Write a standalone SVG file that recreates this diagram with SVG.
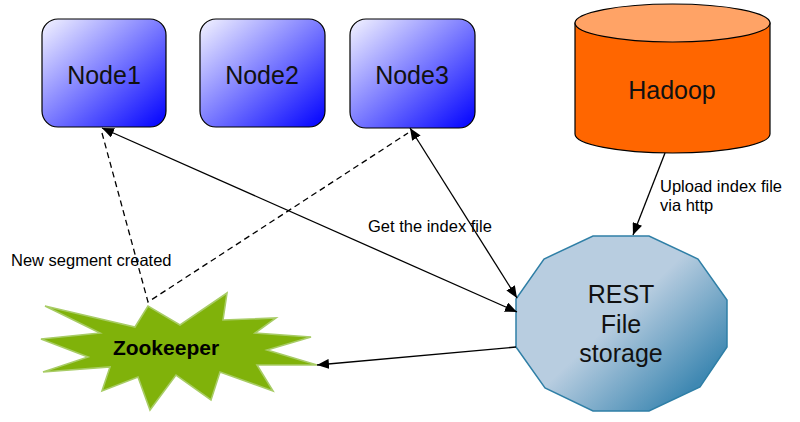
<svg xmlns="http://www.w3.org/2000/svg" width="800" height="422" viewBox="0 0 800 422">
<defs>
  <linearGradient id="gNode" x1="0" y1="0" x2="1" y2="1">
    <stop offset="0" stop-color="#f4f4ff"/>
    <stop offset="1" stop-color="#0000ff"/>
  </linearGradient>
  <linearGradient id="gRest" x1="0.45" y1="0.5" x2="0.85" y2="0.85">
    <stop offset="0" stop-color="#b8cde0"/>
    <stop offset="1" stop-color="#3f88b2"/>
  </linearGradient>
  <marker id="arr" viewBox="0 0 12 10" refX="12" refY="5" markerWidth="12" markerHeight="10" markerUnits="userSpaceOnUse" orient="auto-start-reverse">
    <path d="M0,0 L12,5 L0,10 Z" fill="#000"/>
  </marker>
  <style>
    .node rect { fill: url(#gNode); stroke: #000; stroke-width: 1.2; }
    .big { font-family: "Liberation Sans", Arial, sans-serif; font-size: 25px; fill: #111; text-anchor: middle; }
    .lbl { font-family: "Liberation Sans", Arial, sans-serif; font-size: 16.5px; fill: #000; }
    .conn { fill: none; stroke: #000; stroke-width: 1.3; }
    .dash { stroke-dasharray: 6 4; }
  </style>
</defs>

<g id="node1" class="node">
  <rect x="42" y="19" width="124" height="108" rx="16"/>
  <text class="big" x="104" y="84">Node1</text>
</g>
<g id="node2" class="node">
  <rect x="200" y="19" width="125" height="108" rx="16"/>
  <text class="big" x="262" y="84">Node2</text>
</g>
<g id="node3" class="node">
  <rect x="350" y="19" width="125" height="109" rx="16"/>
  <text class="big" x="412" y="84">Node3</text>
</g>

<g id="hadoop">
  <path d="M575,23 L575,134 A97.5,19 0 0 0 770,134 L770,23 Z" fill="#ff6600" stroke="#000" stroke-width="1.2"/>
  <ellipse cx="672.5" cy="23" rx="97.5" ry="19" fill="#ffa366" stroke="#000" stroke-width="1.2"/>
  <text class="big" x="672" y="99">Hadoop</text>
</g>

<g id="rest">
  <polygon points="593,236 649,236 698,259 727,300 727,347 700,387 649,411 593,411 545,388 516,347 516,299 544,259" fill="url(#gRest)" stroke="#2f7fa6" stroke-width="1.5"/>
  <text class="big" x="621" y="303">REST</text>
  <text class="big" x="621" y="333">File</text>
  <text class="big" x="621" y="362">storage</text>
</g>

<g id="zookeeper">
  <polygon points="45,306 135,327 148,306 180,325 227,293 223,320 276,318 255,333 311,337 267,350 317,365 257,365 273,391 220,372 211,400 176,375 150,410 138,377 102,391 110,367 43,372 88,357 41,339 100,333" fill="#80b20a" stroke="#a8cc66" stroke-width="1.6" stroke-linejoin="miter"/>
  <text x="166" y="355" text-anchor="middle" font-family="Liberation Sans, Arial, sans-serif" font-weight="bold" font-size="21" fill="#000">Zookeeper</text>
</g>

<g id="connectors">
  <line class="conn" x1="102" y1="128" x2="517" y2="312" marker-start="url(#arr)" marker-end="url(#arr)"/>
  <line class="conn" x1="410" y1="128" x2="517" y2="298" marker-start="url(#arr)" marker-end="url(#arr)"/>
  <line class="conn" x1="665" y1="153" x2="633" y2="235" marker-end="url(#arr)"/>
  <line class="conn" x1="516" y1="347" x2="317" y2="365" marker-end="url(#arr)"/>
  <polyline class="conn dash" points="102,133 148,302 408,133"/>
  <text class="lbl" x="368" y="232">Get the index file</text>
  <text class="lbl" x="11" y="266">New segment created</text>
  <text class="lbl" x="660" y="192">Upload index file</text>
  <text class="lbl" x="660" y="211">via http</text>
</g>
</svg>
